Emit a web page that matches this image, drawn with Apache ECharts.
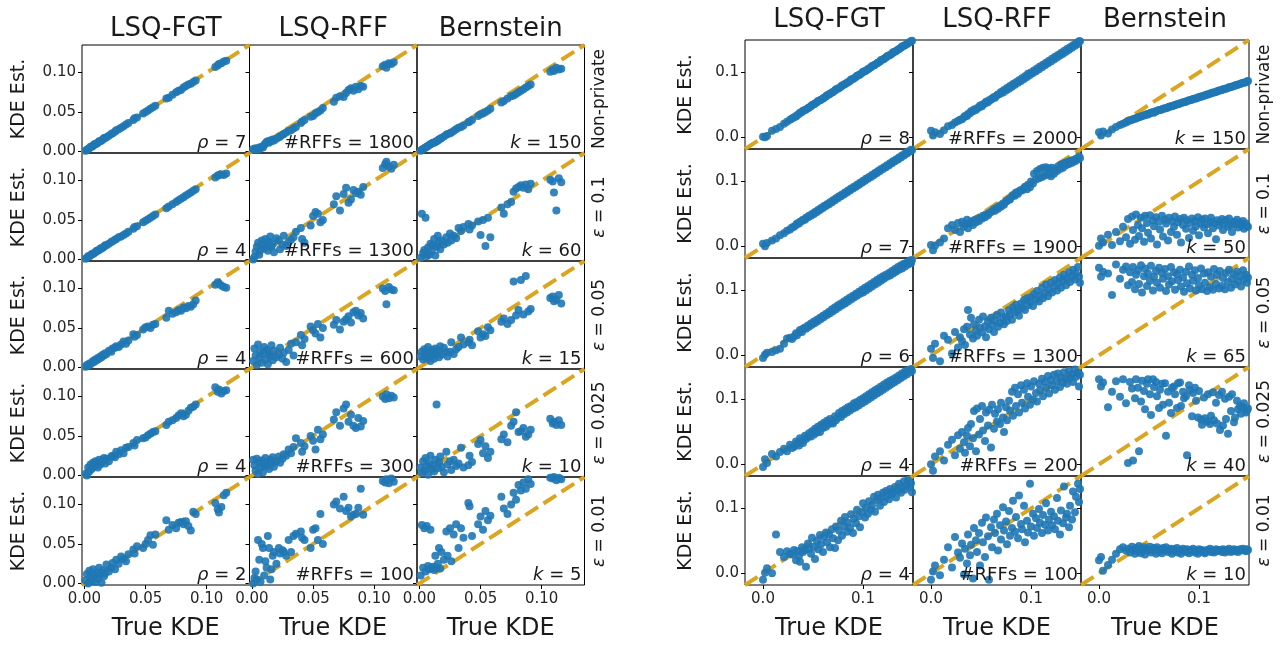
<!DOCTYPE html>
<html><head><meta charset="utf-8">
<script src="https://cdn.jsdelivr.net/npm/echarts@6/dist/echarts.min.js"></script>
<style>html,body{margin:0;padding:0;background:#fff}#c{width:1288px;height:646px}</style>
</head><body><div id="c"></div><script>
// ---------- labels ----------
const colTitles = ['LSQ-FGT', 'LSQ-RFF', 'Bernstein'];
const rowLabels = ['Non-private', 'ε = 0.1', 'ε = 0.05', 'ε = 0.025', 'ε = 0.01'];
const leftNotes = [['ρ = 7', '#RFFs = 1800', 'k = 150'], ['ρ = 4', '#RFFs = 1300', 'k = 60'], ['ρ = 4', '#RFFs = 600', 'k = 15'], ['ρ = 4', '#RFFs = 300', 'k = 10'], ['ρ = 2', '#RFFs = 100', 'k = 5']];
const rightNotes = [['ρ = 8', '#RFFs = 2000', 'k = 150'], ['ρ = 7', '#RFFs = 1900', 'k = 50'], ['ρ = 6', '#RFFs = 1300', 'k = 65'], ['ρ = 4', '#RFFs = 200', 'k = 40'], ['ρ = 4', '#RFFs = 100', 'k = 10']];
const xAxisTitle = 'True KDE';
const yAxisTitle = 'KDE Est.';
const leftTicks = [0, 0.05, 0.10];
const rightTicks = [0, 0.1];
const leftRange = [-0.002, 0.135];
const rightRange = [-0.018, 0.150];

// ---------- left figure: true KDE (shared) ----------
const xLeft = [0.001,0.002,0.003,0.004,0.005,0.006,0.007,0.008,0.009,0.010,
 0.011,0.012,0.013,0.014,0.015,0.016,0.017,0.018,0.020,0.022,
 0.023,0.025,0.026,0.028,0.030,0.032,0.034,0.036,0.040,0.041,
 0.043,0.048,0.050,0.052,0.054,0.056,0.058,0.067,0.069,0.072,
 0.075,0.077,0.079,0.081,0.083,0.085,0.087,0.089,0.091,0.107,
 0.109,0.110,0.112,0.114,0.116];
// KDE estimates, left figure
const leftFgtNP = [0.001,0.002,0.003,0.004,0.006,0.006,0.007,0.009,0.009,0.010,
 0.011,0.013,0.013,0.014,0.015,0.017,0.017,0.018,0.020,0.022,
 0.023,0.025,0.027,0.028,0.030,0.032,0.034,0.036,0.040,0.042,
 0.043,0.048,0.050,0.052,0.054,0.056,0.058,0.067,0.068,0.072,
 0.075,0.077,0.078,0.081,0.083,0.085,0.086,0.088,0.090,0.107,
 0.109,0.111,0.112,0.114,0.115];
const leftRffNP = [0.003,0.002,0.004,0.003,0.002,0.005,0.004,0.006,0.005,0.008,
 0.010,0.012,0.013,0.011,0.014,0.013,0.015,0.014,0.016,0.018,
 0.019,0.021,0.022,0.024,0.026,0.027,0.029,0.031,0.036,0.038,
 0.040,0.044,0.045,0.048,0.050,0.052,0.055,0.063,0.068,0.070,
 0.069,0.074,0.078,0.080,0.077,0.082,0.079,0.083,0.082,0.108,
 0.110,0.106,0.112,0.111,0.113];
const leftBernNP = [0.001,0.002,0.003,0.004,0.005,0.006,0.007,0.008,0.009,0.010,
 0.011,0.011,0.012,0.013,0.014,0.015,0.016,0.017,0.019,0.021,
 0.022,0.023,0.024,0.026,0.028,0.030,0.031,0.033,0.037,0.038,
 0.040,0.045,0.047,0.048,0.050,0.052,0.054,0.062,0.064,0.067,
 0.070,0.071,0.073,0.075,0.077,0.079,0.081,0.083,0.085,0.101,
 0.104,0.102,0.106,0.104,0.105];
const leftFgtE10 = [0.001,0.002,0.004,0.004,0.005,0.007,0.007,0.008,0.009,0.011,
 0.011,0.012,0.014,0.014,0.015,0.016,0.018,0.018,0.020,0.022,
 0.023,0.025,0.026,0.028,0.029,0.031,0.033,0.035,0.039,0.041,
 0.042,0.047,0.049,0.051,0.053,0.055,0.057,0.065,0.067,0.070,
 0.073,0.075,0.077,0.079,0.081,0.083,0.085,0.087,0.089,0.104,
 0.106,0.107,0.108,0.107,0.109];
const leftRffE10 = [0.000,0.003,0.010,0.016,0.021,0.006,0.012,0.024,0.019,0.014,
 0.026,0.018,0.011,0.022,0.029,0.016,0.020,0.009,0.027,0.024,
 0.013,0.019,0.030,0.017,0.022,0.025,0.028,0.035,0.040,0.026,
 0.021,0.043,0.055,0.060,0.058,0.047,0.050,0.070,0.080,0.062,
 0.083,0.091,0.072,0.076,0.088,0.084,0.086,0.082,0.092,0.116,
 0.121,0.124,0.118,0.115,0.120];
const leftBernE10 = [0.002,0.058,0.008,0.012,0.053,0.004,0.015,0.006,0.020,0.011,
 0.018,0.026,0.005,0.016,0.030,0.022,0.013,0.024,0.019,0.028,
 0.021,0.033,0.024,0.030,0.027,0.040,0.036,0.041,0.045,0.038,
 0.043,0.048,0.031,0.050,0.017,0.053,0.028,0.066,0.058,0.070,
 0.073,0.086,0.090,0.092,0.094,0.091,0.095,0.089,0.096,0.101,
 0.099,0.085,0.062,0.103,0.098];
const leftFgtE05 = [0.001,0.003,0.002,0.005,0.004,0.006,0.008,0.007,0.010,0.009,
 0.012,0.011,0.014,0.013,0.016,0.015,0.018,0.017,0.021,0.020,
 0.024,0.025,0.027,0.026,0.029,0.033,0.030,0.034,0.042,0.039,
 0.041,0.048,0.051,0.052,0.050,0.054,0.055,0.063,0.072,0.068,
 0.070,0.073,0.072,0.076,0.075,0.078,0.077,0.080,0.085,0.105,
 0.108,0.106,0.104,0.102,0.101];
const leftRffE05 = [0.008,0.024,0.015,0.003,0.029,0.012,0.020,0.006,0.017,0.026,
 0.010,0.022,0.004,0.018,0.014,0.028,0.009,0.021,0.013,0.016,
 0.025,0.011,0.019,0.007,0.022,0.030,0.015,0.032,0.041,0.028,
 0.036,0.052,0.047,0.043,0.055,0.038,0.050,0.054,0.060,0.048,
 0.058,0.061,0.065,0.057,0.070,0.072,0.066,0.069,0.062,0.100,
 0.097,0.080,0.102,0.099,0.098];
const leftBernE05 = [0.014,0.020,0.010,0.023,0.017,0.012,0.026,0.019,0.008,0.022,
 0.015,0.011,0.024,0.018,0.021,0.013,0.027,0.016,0.025,0.019,
 0.014,0.020,0.032,0.017,0.023,0.026,0.038,0.029,0.032,0.035,
 0.028,0.046,0.038,0.042,0.040,0.051,0.047,0.058,0.062,0.055,
 0.060,0.109,0.066,0.073,0.111,0.067,0.116,0.071,0.074,0.088,
 0.090,0.084,0.086,0.092,0.081];
const leftFgtE025 = [0.002,0.000,0.010,0.005,0.014,0.008,0.016,0.012,0.018,0.013,
 0.010,0.020,0.014,0.017,0.019,0.022,0.015,0.021,0.018,0.024,
 0.025,0.023,0.030,0.027,0.032,0.028,0.035,0.036,0.041,0.038,
 0.045,0.047,0.048,0.051,0.053,0.055,0.056,0.064,0.068,0.070,
 0.073,0.076,0.079,0.075,0.077,0.082,0.086,0.087,0.090,0.112,
 0.106,0.109,0.104,0.107,0.108];
const leftRffE025 = [0.020,0.013,0.006,0.021,0.002,0.016,0.010,0.019,0.004,0.014,
 0.022,0.012,0.017,0.008,0.020,0.015,0.023,0.011,0.018,0.024,
 0.016,0.021,0.027,0.025,0.033,0.028,0.036,0.047,0.041,0.030,
 0.037,0.050,0.044,0.033,0.058,0.046,0.052,0.071,0.080,0.063,
 0.085,0.090,0.068,0.077,0.063,0.060,0.073,0.062,0.069,0.100,
 0.097,0.103,0.098,0.101,0.099];
const leftBernE025 = [0.010,0.003,0.018,0.006,0.022,0.012,0.001,0.015,0.025,0.008,
 0.013,0.005,0.020,0.090,0.009,0.017,0.024,0.011,0.004,0.030,
 0.014,0.018,0.007,0.020,0.012,0.015,0.035,0.010,0.013,0.025,
 0.017,0.040,0.045,0.028,0.037,0.022,0.030,0.046,0.052,0.042,
 0.063,0.068,0.080,0.055,0.056,0.060,0.049,0.052,0.058,0.072,
 0.066,0.068,0.064,0.070,0.064];
const leftFgtE01 = [0.004,0.012,0.000,0.016,0.008,0.003,0.018,0.010,0.002,0.014,
 0.006,0.020,0.011,0.001,0.016,0.009,0.013,0.024,0.015,0.020,
 0.026,0.018,0.030,0.025,0.034,0.031,0.028,0.037,0.043,0.038,
 0.047,0.045,0.050,0.055,0.061,0.049,0.062,0.080,0.068,0.074,
 0.070,0.077,0.078,0.075,0.079,0.073,0.067,0.091,0.088,0.102,
 0.094,0.090,0.097,0.112,0.115];
const leftRffE01 = [0.000,0.007,0.015,0.005,0.055,0.030,0.002,0.050,0.045,0.010,
 0.028,0.020,0.060,0.045,0.005,0.018,0.035,0.040,0.025,0.045,
 0.038,0.042,0.040,0.035,0.055,0.040,0.060,0.063,0.066,0.058,
 0.055,0.045,0.068,0.070,0.055,0.088,0.050,0.100,0.104,0.095,
 0.110,0.092,0.096,0.085,0.087,0.088,0.096,0.120,0.087,0.130,
 0.128,0.132,0.127,0.133,0.129];
const leftBernE01 = [0.010,0.074,0.020,0.070,0.015,0.073,0.022,0.018,0.068,0.019,
 0.021,0.017,0.035,0.020,0.025,0.045,0.019,0.040,0.030,0.066,
 0.035,0.070,0.028,0.062,0.075,0.045,0.070,0.058,0.102,0.098,
 0.060,0.075,0.085,0.068,0.092,0.080,0.086,0.110,0.095,0.088,
 0.100,0.115,0.106,0.125,0.118,0.128,0.120,0.132,0.126,0.134,
 0.133,0.135,0.131,0.134,0.132];

// ---------- right figure: true KDE (shared) ----------
const xRight = [0.000,0.002,0.004,0.009,0.013,0.017,0.021,0.024,0.027,0.029,
 0.031,0.033,0.034,0.036,0.037,0.039,0.040,0.042,0.043,0.045,
 0.046,0.048,0.049,0.051,0.052,0.054,0.055,0.057,0.058,0.060,
 0.061,0.063,0.064,0.066,0.067,0.069,0.070,0.072,0.073,0.075,
 0.076,0.078,0.079,0.081,0.082,0.084,0.085,0.087,0.088,0.090,
 0.091,0.093,0.094,0.096,0.097,0.099,0.100,0.102,0.103,0.105,
 0.106,0.108,0.109,0.111,0.112,0.114,0.115,0.117,0.118,0.120,
 0.121,0.123,0.124,0.126,0.127,0.129,0.130,0.132,0.133,0.135,
 0.136,0.138,0.139,0.141,0.142,0.144,0.145,0.147,0.148,0.149];
const rightFgtNP = [0.001,0.000,0.002,0.010,0.013,0.016,0.021,0.024,0.027,0.029,
 0.031,0.032,0.034,0.036,0.038,0.039,0.041,0.042,0.043,0.045,
 0.046,0.048,0.050,0.051,0.052,0.054,0.056,0.057,0.058,0.060,
 0.061,0.063,0.065,0.066,0.067,0.069,0.070,0.072,0.074,0.075,
 0.076,0.078,0.080,0.081,0.082,0.084,0.085,0.087,0.089,0.090,
 0.091,0.093,0.095,0.096,0.097,0.099,0.101,0.102,0.103,0.105,
 0.106,0.108,0.110,0.111,0.112,0.114,0.115,0.117,0.119,0.120,
 0.121,0.123,0.125,0.126,0.127,0.129,0.131,0.132,0.133,0.135,
 0.136,0.138,0.140,0.141,0.142,0.144,0.145,0.147,0.148,0.149];
const rightRffNP = [0.010,0.003,0.008,0.005,0.011,0.017,0.019,0.023,0.025,0.027,
 0.028,0.031,0.033,0.033,0.036,0.037,0.040,0.040,0.043,0.042,
 0.045,0.046,0.049,0.048,0.051,0.052,0.055,0.054,0.057,0.058,
 0.060,0.062,0.061,0.065,0.066,0.067,0.070,0.069,0.073,0.072,
 0.076,0.075,0.079,0.078,0.082,0.081,0.085,0.084,0.088,0.087,
 0.091,0.090,0.094,0.093,0.098,0.096,0.100,0.099,0.103,0.102,
 0.106,0.105,0.109,0.108,0.112,0.111,0.115,0.114,0.118,0.117,
 0.121,0.120,0.124,0.123,0.127,0.126,0.130,0.129,0.133,0.132,
 0.136,0.135,0.139,0.138,0.142,0.141,0.145,0.144,0.148,0.148];
const rightBernNP = [0.008,0.003,0.009,0.006,0.012,0.016,0.019,0.021,0.023,0.025,
 0.026,0.027,0.028,0.029,0.029,0.031,0.031,0.032,0.033,0.034,
 0.034,0.036,0.035,0.037,0.038,0.039,0.038,0.040,0.041,0.042,
 0.042,0.043,0.044,0.045,0.045,0.046,0.047,0.048,0.048,0.049,
 0.050,0.051,0.051,0.052,0.053,0.054,0.054,0.055,0.056,0.057,
 0.057,0.058,0.059,0.060,0.060,0.061,0.062,0.063,0.063,0.064,
 0.065,0.066,0.066,0.067,0.068,0.069,0.069,0.070,0.071,0.072,
 0.072,0.073,0.074,0.075,0.075,0.076,0.077,0.078,0.078,0.079,
 0.080,0.081,0.081,0.082,0.083,0.084,0.084,0.085,0.086,0.087];
const rightFgtE10 = [0.004,0.000,0.005,0.009,0.012,0.017,0.020,0.024,0.026,0.029,
 0.030,0.033,0.035,0.035,0.038,0.039,0.041,0.041,0.044,0.045,
 0.047,0.047,0.050,0.050,0.053,0.053,0.056,0.056,0.059,0.059,
 0.062,0.062,0.065,0.065,0.068,0.068,0.071,0.071,0.074,0.074,
 0.077,0.077,0.080,0.080,0.083,0.083,0.086,0.086,0.089,0.089,
 0.092,0.092,0.095,0.095,0.098,0.098,0.101,0.101,0.104,0.104,
 0.107,0.107,0.110,0.110,0.113,0.113,0.116,0.116,0.119,0.119,
 0.122,0.122,0.125,0.125,0.128,0.128,0.131,0.131,0.134,0.134,
 0.137,0.137,0.140,0.140,0.143,0.143,0.146,0.146,0.149,0.148];
const rightRffE10 = [0.002,-0.006,0.001,0.006,0.012,0.028,0.033,0.025,0.036,0.022,
 0.038,0.030,0.034,0.041,0.028,0.036,0.038,0.033,0.040,0.037,
 0.042,0.039,0.044,0.043,0.047,0.045,0.049,0.048,0.051,0.053,
 0.054,0.057,0.055,0.060,0.058,0.063,0.061,0.066,0.064,0.069,
 0.070,0.073,0.072,0.077,0.079,0.078,0.083,0.081,0.085,0.087,
 0.086,0.089,0.092,0.088,0.095,0.091,0.100,0.097,0.112,0.103,
 0.116,0.105,0.119,0.107,0.121,0.109,0.122,0.111,0.120,0.108,
 0.121,0.112,0.118,0.116,0.123,0.119,0.126,0.121,0.128,0.125,
 0.130,0.127,0.132,0.129,0.133,0.131,0.135,0.134,0.139,0.136];
const rightBernE10 = [0.001,0.012,0.006,0.018,0.002,0.022,0.008,0.030,0.014,0.042,
 0.004,0.046,0.025,0.010,0.049,0.033,0.016,0.044,0.028,0.007,
 0.047,0.036,0.021,0.048,0.012,0.040,0.031,0.045,0.003,0.038,
 0.026,0.047,0.015,0.041,0.035,0.009,0.044,0.022,0.039,0.030,
 0.046,0.018,0.037,0.042,0.006,0.033,0.044,0.027,0.040,0.013,
 0.036,0.043,0.024,0.039,0.031,0.045,0.017,0.035,0.041,0.029,
 0.043,0.034,0.020,0.038,0.044,0.028,0.036,0.011,0.040,0.032,
 0.037,0.042,0.025,0.035,0.040,0.030,0.043,0.033,0.022,0.038,
 0.034,0.041,0.029,0.036,0.032,0.039,0.027,0.035,0.031,0.030];
const rightFgtE05 = [-0.004,0.001,0.004,0.005,0.008,0.010,0.018,0.026,0.027,0.025,
 0.029,0.034,0.031,0.035,0.039,0.036,0.041,0.043,0.041,0.046,
 0.044,0.049,0.047,0.052,0.050,0.055,0.053,0.058,0.056,0.061,
 0.059,0.064,0.062,0.067,0.065,0.071,0.068,0.074,0.071,0.077,
 0.074,0.080,0.077,0.083,0.080,0.086,0.083,0.089,0.086,0.092,
 0.089,0.095,0.092,0.098,0.095,0.101,0.097,0.104,0.100,0.107,
 0.103,0.110,0.106,0.113,0.109,0.116,0.112,0.119,0.115,0.122,
 0.118,0.124,0.121,0.127,0.123,0.130,0.126,0.133,0.129,0.136,
 0.132,0.139,0.134,0.141,0.137,0.143,0.140,0.146,0.142,0.147];
const rightRffE05 = [0.010,-0.004,0.018,-0.009,0.030,0.024,0.003,0.036,0.012,0.028,
 0.022,0.040,0.016,0.044,0.070,0.032,0.058,0.026,0.048,0.038,
 0.030,0.055,0.042,0.035,0.060,0.045,0.028,0.052,0.040,0.058,
 0.047,0.036,0.054,0.062,0.044,0.050,0.066,0.057,0.048,0.060,
 0.053,0.070,0.063,0.055,0.074,0.066,0.078,0.069,0.061,0.080,
 0.073,0.085,0.070,0.088,0.077,0.082,0.090,0.076,0.094,0.086,
 0.099,0.083,0.092,0.104,0.088,0.096,0.109,0.091,0.101,0.112,
 0.097,0.106,0.116,0.100,0.111,0.120,0.104,0.115,0.124,0.108,
 0.118,0.128,0.113,0.122,0.132,0.117,0.126,0.136,0.121,0.112];
const rightBernE05 = [0.135,0.121,0.129,0.126,0.093,0.140,0.118,0.132,0.137,0.108,
 0.128,0.113,0.136,0.102,0.124,0.131,0.110,0.139,0.097,0.122,
 0.134,0.107,0.126,0.115,0.138,0.100,0.121,0.130,0.112,0.135,
 0.104,0.127,0.118,0.133,0.099,0.122,0.109,0.136,0.114,0.128,
 0.101,0.125,0.116,0.132,0.106,0.120,0.098,0.129,0.111,0.137,
 0.103,0.124,0.115,0.131,0.100,0.119,0.108,0.134,0.102,0.126,
 0.112,0.099,0.128,0.105,0.121,0.101,0.133,0.110,0.124,0.103,
 0.130,0.107,0.119,0.102,0.127,0.113,0.132,0.104,0.118,0.125,
 0.109,0.129,0.114,0.122,0.106,0.131,0.117,0.124,0.112,0.120];
const rightFgtE025 = [-0.004,0.008,0.002,0.016,0.012,0.019,0.024,0.020,0.030,0.025,
 0.027,0.035,0.032,0.029,0.040,0.036,0.033,0.044,0.039,0.042,
 0.048,0.043,0.051,0.046,0.055,0.049,0.058,0.050,0.061,0.056,
 0.064,0.058,0.067,0.062,0.070,0.065,0.063,0.074,0.068,0.072,
 0.079,0.073,0.082,0.077,0.085,0.080,0.088,0.083,0.090,0.086,
 0.094,0.088,0.096,0.091,0.099,0.094,0.102,0.097,0.105,0.100,
 0.108,0.103,0.111,0.106,0.114,0.109,0.117,0.112,0.120,0.115,
 0.123,0.118,0.126,0.121,0.129,0.124,0.131,0.127,0.134,0.130,
 0.137,0.133,0.140,0.136,0.143,0.139,0.145,0.142,0.147,0.144];
const rightRffE025 = [0.000,-0.010,0.012,0.020,0.006,0.030,0.038,0.014,0.045,0.024,
 0.050,0.034,0.018,0.044,0.056,0.028,0.062,0.040,0.082,0.020,
 0.086,0.046,0.070,0.090,0.052,0.036,0.080,0.060,0.084,0.026,
 0.092,0.055,0.078,0.066,0.085,0.062,0.095,0.072,0.050,0.088,
 0.068,0.098,0.083,0.112,0.075,0.118,0.090,0.108,0.080,0.122,
 0.095,0.115,0.086,0.125,0.104,0.092,0.120,0.100,0.128,0.110,
 0.097,0.124,0.114,0.132,0.105,0.127,0.118,0.136,0.109,0.130,
 0.122,0.138,0.115,0.128,0.140,0.119,0.134,0.126,0.142,0.131,
 0.124,0.144,0.133,0.139,0.127,0.146,0.135,0.141,0.120,0.138];
const rightBernE025 = [0.131,0.120,0.126,0.088,0.112,0.128,0.104,0.131,0.094,0.002,
 0.127,0.117,0.006,0.102,0.131,0.118,0.020,0.097,0.129,0.113,
 0.085,0.124,0.131,0.108,0.076,0.131,0.119,0.127,0.105,0.087,
 0.115,0.124,0.092,0.125,0.044,0.112,0.095,0.079,0.118,0.120,
 0.108,0.087,0.125,0.126,0.090,0.112,0.102,0.105,0.014,0.122,
 0.114,0.074,0.110,0.118,0.098,0.072,0.113,0.069,0.061,0.103,
 0.071,0.066,0.108,0.062,0.075,0.111,0.068,0.095,0.063,0.107,
 0.053,0.112,0.060,0.101,0.070,0.047,0.104,0.082,0.108,0.065,
 0.072,0.098,0.085,0.090,0.078,0.088,0.094,0.080,0.083,0.086];
const rightFgtE01 = [-0.010,0.001,0.008,0.000,0.060,0.033,0.025,0.034,0.030,0.029,
 0.036,0.020,0.034,0.027,0.018,0.040,0.033,0.036,0.010,0.046,
 0.038,0.030,0.055,0.041,0.022,0.050,0.037,0.059,0.045,0.033,
 0.056,0.063,0.048,0.060,0.040,0.068,0.054,0.039,0.072,0.051,
 0.066,0.081,0.058,0.073,0.087,0.064,0.078,0.070,0.091,0.062,
 0.084,0.077,0.098,0.088,0.071,0.094,0.108,0.086,0.101,0.092,
 0.111,0.098,0.105,0.118,0.095,0.113,0.121,0.104,0.116,0.124,
 0.110,0.127,0.119,0.114,0.130,0.122,0.125,0.133,0.117,0.128,
 0.138,0.124,0.131,0.142,0.129,0.136,0.144,0.133,0.139,0.125];
const rightRffE01 = [-0.010,0.003,0.012,-0.003,0.021,0.040,0.009,0.056,0.032,0.024,
 0.046,-0.002,0.038,0.015,0.060,0.028,0.044,-0.008,0.070,0.051,
 0.033,0.062,0.012,0.078,0.048,0.025,0.086,0.057,-0.010,0.071,
 0.040,0.083,0.062,0.092,0.035,0.074,0.052,0.102,0.066,0.080,
 0.045,0.096,0.058,0.070,0.112,0.064,0.087,0.054,0.120,0.076,
 0.068,0.104,0.048,0.081,0.063,0.138,0.072,0.092,0.058,0.085,
 0.070,0.099,0.078,0.062,0.090,0.075,0.108,0.066,0.083,0.095,
 0.074,0.088,0.068,0.116,0.081,0.060,0.097,0.077,0.134,0.086,
 0.092,0.071,0.104,0.083,0.126,0.094,0.118,0.138,0.110,0.130];
const rightBernE01 = [0.020,0.025,0.004,0.013,0.021,0.030,0.037,0.040,0.035,0.038,
 0.032,0.041,0.036,0.030,0.039,0.034,0.042,0.031,0.037,0.040,
 0.029,0.038,0.035,0.041,0.032,0.036,0.039,0.030,0.040,0.034,
 0.037,0.031,0.039,0.035,0.040,0.033,0.036,0.038,0.030,0.037,
 0.034,0.039,0.032,0.036,0.030,0.038,0.035,0.033,0.037,0.031,
 0.036,0.034,0.038,0.032,0.035,0.030,0.037,0.034,0.036,0.033,
 0.031,0.036,0.034,0.038,0.033,0.035,0.032,0.037,0.034,0.036,
 0.035,0.033,0.037,0.032,0.036,0.034,0.038,0.033,0.035,0.037,
 0.034,0.036,0.033,0.037,0.035,0.038,0.036,0.034,0.037,0.036];

const leftPanels = [[leftFgtNP, leftRffNP, leftBernNP], [leftFgtE10, leftRffE10, leftBernE10], [leftFgtE05, leftRffE05, leftBernE05], [leftFgtE025, leftRffE025, leftBernE025], [leftFgtE01, leftRffE01, leftBernE01]];
const rightPanels = [[rightFgtNP, rightRffNP, rightBernNP], [rightFgtE10, rightRffE10, rightBernE10], [rightFgtE05, rightRffE05, rightBernE05], [rightFgtE025, rightRffE025, rightBernE025], [rightFgtE01, rightRffE01, rightBernE01]];

// ---------- layout ----------
const FONT = 'DejaVu Sans';
const DOT = '#1f77b4';
const DIAG = '#daa520';
const TXT = '#1a1a1a';
const figures = [
  { x0: 82, y0: 45, w: 167.5, h: 108, range: leftRange, ticks: leftTicks, dec: 2, xs: xLeft, panels: leftPanels, notes: leftNotes, titleY: 29, yLabX: 19, rowLabX: 600 },
  { x0: 745, y0: 40, w: 168, h: 109, range: rightRange, ticks: rightTicks, dec: 1, xs: xRight, panels: rightPanels, notes: rightNotes, titleY: 20, yLabX: 686, rowLabX: 1265 }
];

const grids = [], xAxes = [], yAxes = [], series = [], graphics = [];
function txt(x, y, text, size, extra) {
  graphics.push(Object.assign({ type: 'text', x: x, y: y, silent: true, z: 100,
    style: Object.assign({ text: text, fontSize: size, fontFamily: FONT, fill: TXT, align: 'center', verticalAlign: 'middle' }, extra && extra.style || {}) },
    extra && extra.el || {}));
}
// italic math symbol (ρ, k, ε) at the start of a label
function richMath(s) {
  const m = s.match(/^([ρkε])(.*)$/);
  return m ? '{i|' + m[1] + '}' + m[2] : s;
}
function italicRich(size) { return { i: { fontStyle: 'italic', fontSize: size, fontFamily: FONT, fill: TXT } }; }

let idx = 0;
figures.forEach(f => {
  const [lo, hi] = f.range;
  for (let r = 0; r < 5; r++) {
    for (let c = 0; c < 3; c++) {
      const left = f.x0 + c * f.w, top = f.y0 + r * f.h;
      grids.push({ left: left, top: top, width: f.w, height: f.h, show: true, borderColor: '#000', borderWidth: 1, backgroundColor: 'transparent', containLabel: false });
      xAxes.push({ gridIndex: idx, type: 'value', min: lo, max: hi,
        axisLine: { show: false, onZero: false }, splitLine: { show: false },
        axisTick: { show: r === 4, inside: false, length: 4, customValues: f.ticks, lineStyle: { color: '#000', width: 1 } },
        axisLabel: { show: r === 4, customValues: f.ticks, formatter: v => Number(v).toFixed(f.dec), color: '#262626', fontSize: 15, fontFamily: FONT, margin: 7, showMinLabel: true, showMaxLabel: true } });
      yAxes.push({ gridIndex: idx, type: 'value', min: lo, max: hi,
        axisLine: { show: false, onZero: false }, splitLine: { show: false },
        axisTick: { show: true, inside: false, length: 4, customValues: f.ticks, lineStyle: { color: '#000', width: 1 } },
        axisLabel: { show: c === 0, customValues: f.ticks, formatter: v => Number(v).toFixed(f.dec), color: '#262626', fontSize: 15, fontFamily: FONT, margin: 6, showMinLabel: true, showMaxLabel: true } });
      series.push({ type: 'line', xAxisIndex: idx, yAxisIndex: idx, data: [[lo, lo], [hi, hi]], symbol: 'none', silent: true, z: 1,
        lineStyle: { color: DIAG, width: 4, type: [15, 6.5], cap: 'butt' } });
      const ys = f.panels[r][c];
      series.push({ type: 'scatter', xAxisIndex: idx, yAxisIndex: idx, data: f.xs.map((x, i) => [x, ys[i]]), symbolSize: 8, z: 2,
        itemStyle: { color: DOT, opacity: 0.9 } });
      // annotation in lower-right corner
      txt(left + f.w - 3, top + f.h - 1, richMath(f.notes[r][c]), 18, { style: { align: 'right', verticalAlign: 'bottom', rich: italicRich(18) } });
      idx++;
    }
    // y-axis title per row
    txt(f.yLabX, f.y0 + r * f.h + f.h / 2, yAxisTitle, 19, { el: { rotation: Math.PI / 2 } });
    // row label on the right
    txt(f.rowLabX, f.y0 + r * f.h + f.h / 2, richMath(rowLabels[r]), 17, { el: { rotation: Math.PI / 2 }, style: { rich: italicRich(17) } });
  }
  for (let c = 0; c < 3; c++) {
    txt(f.x0 + c * f.w + f.w / 2, f.titleY, colTitles[c], 26);
    txt(f.x0 + c * f.w + f.w / 2, 629, xAxisTitle, 24);
  }
});

const chart = echarts.init(document.getElementById('c'), null, { renderer: 'canvas' });
chart.setOption({ animation: false, backgroundColor: '#fff', grid: grids, xAxis: xAxes, yAxis: yAxes, series: series, graphic: graphics });
</script></body></html>
